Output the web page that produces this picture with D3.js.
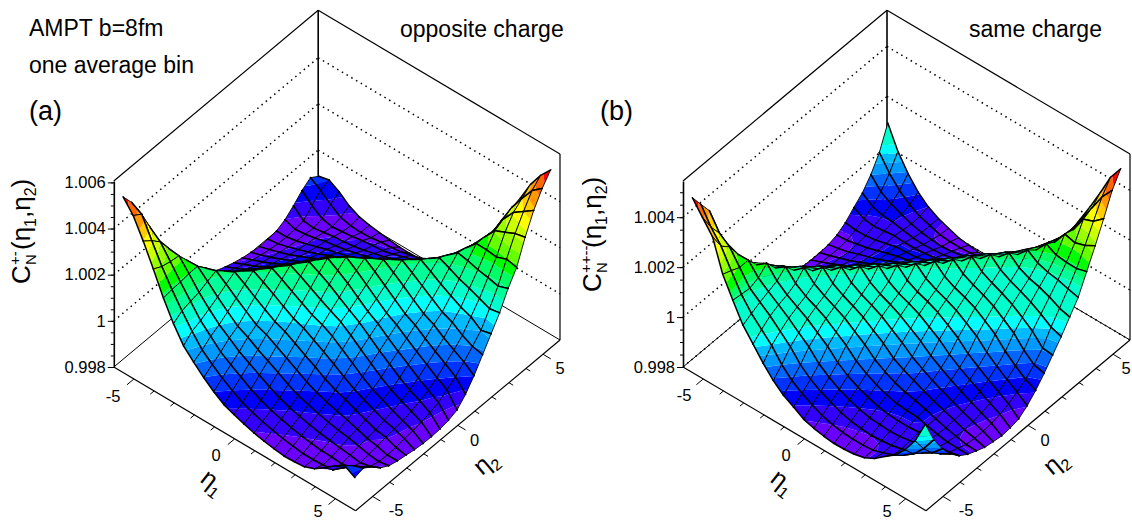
<!DOCTYPE html>
<html>
<head>
<meta charset="utf-8">
<title>C_N(eta1,eta2)</title>
<script src="https://cdn.jsdelivr.net/npm/d3@7"></script>
<style>
  html,body{margin:0;padding:0;background:#fff;overflow:hidden}
  text{font-family:"Liberation Sans",Arial,sans-serif;fill:#000}
  .ztick text{font-size:16.5px}
  .ztick path,.ztick line{stroke:#000}
</style>
</head>
<body>
<script>
// bin centres of eta1 and eta2
var etaCentres = [-5.75,-5.25,-4.75,-4.25,-3.75,-3.25,-2.75,-2.25,-1.75,-1.25,-0.75,-0.25,
                  0.25,0.75,1.25,1.75,2.25,2.75,3.25,3.75,4.25,4.75,5.25,5.75];
var etaTicks = d3.range(-5,6);
var etaLabels = [-5,0,5];

// band colours, lowest first
var bandColors = ["#6a00ff","#3300ff","#0000ff","#0033ff","#0066ff","#0099ff","#00bbff","#00ffff","#00ffcc","#00ff99",
                  "#00ff66","#00ff00","#66ff00","#99ff00","#ccff00","#ffff00","#ffcc00","#ff9900","#ff6600","#ff0000"];

// band limits in (C-1)*1e5
var oppositeLevels = [-149,-113,-76,-40,-4,33,69,105,141,178,214,250,286,323,359,395,431,468,504];
var sameLevels = [-150,-120,-90,-60,-30,0,25,52,145,165,185,215,245,275,305,335,370,400,440];

// (C-1)*1e5. C(eta1,eta2) is symmetric so only the rows with j<=i are kept
var oppositeRows = [
[535],
[480,455],
[395,366,330],
[300,280,270,265],
[200,206,208,213,215],
[115,139,150,158,175,190],
[45,77,92,112,133,158,180],
[0,22,50,70,95,123,153,180],
[-41,-15,8,38,58,91,123,157,188],
[-76,-48,-21,5,37,59,95,131,164,195],
[-106,-77,-48,-20,9,43,68,103,138,173,205],
[-123,-103,-75,-45,-14,18,51,77,113,148,183,215],
[-138,-119,-98,-70,-38,-7,26,61,88,123,158,188,215],
[-151,-133,-114,-92,-64,-32,0,36,71,100,128,158,183,205],
[-161,-144,-127,-108,-86,-58,-24,10,47,78,99,123,148,173,195],
[-168,-154,-138,-120,-100,-79,-51,-17,15,46,71,88,112,138,164,188],
[-174,-161,-147,-131,-113,-94,-72,-45,-17,10,36,61,77,103,131,159,185],
[-172,-167,-154,-140,-124,-107,-88,-72,-51,-24,0,26,51,68,97,128,159,188],
[-168,-168,-159,-147,-133,-118,-107,-94,-79,-58,-32,-7,18,45,64,97,131,169,205],
[-150,-165,-161,-152,-140,-133,-124,-113,-100,-86,-64,-38,-13,12,42,66,106,148,196,240],
[-120,-160,-165,-158,-150,-147,-141,-131,-120,-108,-92,-70,-43,-17,11,47,82,133,183,238,290],
[-85,-125,-155,-165,-160,-155,-147,-142,-138,-127,-113,-98,-74,-45,-16,17,66,115,175,233,310,365],
[-60,-90,-125,-155,-165,-168,-165,-158,-155,-148,-138,-125,-101,-75,-42,-5,34,97,164,250,330,395,455],
[-85,-75,-100,-135,-157,-167,-173,-180,-184,-185,-183,-176,-162,-125,-75,-15,45,105,180,240,340,425,490,540]
];

var sameRows = [
[476],
[421,353],
[367,301,270],
[241,227,211,212],
[161,156,152,165,195],
[85,103,120,134,148,177],
[33,63,89,105,116,134,168],
[-20,23,51,75,92,107,128,165],
[-65,-30,13,41,68,87,104,125,162],
[-100,-69,-35,8,37,65,84,101,123,160],
[-123,-97,-69,-36,6,35,63,82,99,121,158],
[-148,-119,-94,-66,-35,5,33,61,81,97,119,156],
[-160,-138,-113,-90,-64,-34,4,32,60,79,95,119,158],
[-168,-150,-130,-108,-86,-60,-32,4,31,58,79,97,122,162],
[-173,-157,-141,-122,-102,-81,-57,-32,3,31,60,82,101,126,166],
[-172,-160,-146,-132,-115,-97,-77,-54,-30,4,33,63,85,105,131,172],
[-168,-160,-150,-135,-122,-108,-91,-72,-54,-30,6,36,66,90,111,136,176],
[-158,-156,-147,-138,-125,-112,-100,-91,-77,-56,-30,8,39,71,94,115,139,178],
[-137,-143,-142,-135,-125,-114,-112,-108,-96,-80,-58,-31,11,43,74,97,117,143,185],
[-105,-127,-132,-128,-122,-125,-125,-121,-114,-101,-83,-60,-30,13,45,76,100,124,157,205],
[-75,-105,-117,-120,-128,-135,-138,-135,-131,-121,-106,-87,-62,-31,14,48,81,113,144,184,240],
[-30,-75,-100,-117,-132,-142,-147,-150,-146,-139,-129,-111,-91,-65,-31,17,57,97,137,179,229,295],
[30,-30,-75,-108,-130,-143,-156,-160,-160,-157,-149,-136,-117,-95,-65,-26,29,76,125,178,242,311,380],
[120,30,-35,-85,-120,-143,-158,-172,-178,-183,-180,-172,-148,-115,-75,-30,15,65,115,190,265,345,430,488]
];

// z ticks in the same units
var oppositeZTicks = [-200,0,200,400,600];
var oppositeZLabels = ["0.998","1","1.002","1.004","1.006"];
var sameZTicks = [-200,0,200,400];
var sameZLabels = ["0.998","1","1.002","1.004"];

var width = 1132, height = 521;
var svg = d3.select("body").append("svg").attr("width",width).attr("height",height)
            .style("display","block");

var frac = d3.scaleLinear().domain([-6,6]).range([0,1]);
var line = d3.line();
var nBins = etaCentres.length;

function drawPanel(p){
  var g = svg.append("g");
  var zH = d3.scaleLinear().domain(p.zDomain).range([0,p.zHeight]);
  var colorOf = d3.scaleThreshold().domain(p.levels).range(bandColors);
  var edges = [-Infinity].concat(colorOf.domain(),[Infinity]);

  function base(u,v){
    var a = frac(u), b = frac(v);
    return [p.left[0] + a*(p.front[0]-p.left[0]) + b*(p.right[0]-p.front[0]),
            p.left[1] + a*(p.front[1]-p.left[1]) + b*(p.right[1]-p.front[1])];
  }
  function screen(u,v,z){
    var q = base(u,v);
    return [q[0], q[1]-zH(z)];
  }
  function val(i,j){ return i>=j ? p.rows[i][j] : p.rows[j][i]; }

  // walls
  var back = [p.left[0]+p.right[0]-p.front[0], p.left[1]+p.right[1]-p.front[1]];
  var h = p.zHeight;
  function seg(a,b,w,dash){
    var l = g.append("path").attr("d",line([a,b])).attr("fill","none").attr("stroke","#000").attr("stroke-width",w);
    if(dash) l.attr("stroke-dasharray",dash);
    return l;
  }
  seg(p.left,back,1); seg(p.right,back,1);
  seg([p.left[0],p.left[1]-h],[back[0],back[1]-h],1.2);
  seg([back[0],back[1]-h],[p.right[0],p.right[1]-h],1.2);
  seg([back[0],back[1]-h],back,1.6);
  seg([p.right[0],p.right[1]-h],p.right,1.2);
  p.gridTicks.forEach(function(t){
    var y = zH(t);
    seg([p.left[0],p.left[1]-y],[back[0],back[1]-y],1.5,"1.5 4");
    seg([back[0],back[1]-y],[p.right[0],p.right[1]-y],1.5,"1.5 4");
  });

  // surface cells, far corner first
  var shapes = [];
  function clip(poly,lo,hi){
    function cut(pts,keep,level){
      var out = [];
      pts.forEach(function(c,k){
        var n = pts[(k+1)%pts.length];
        if(keep(c.z)) out.push(c);
        if(keep(c.z)!==keep(n.z)){
          var t = (level-c.z)/(n.z-c.z);
          out.push({u:c.u+t*(n.u-c.u), v:c.v+t*(n.v-c.v), z:level});
        }
      });
      return out;
    }
    var a = cut(poly,function(z){return z>=lo;},lo);
    return a.length ? cut(a,function(z){return z<=hi;},hi) : a;
  }
  for(var i=0;i<nBins-1;i++){
    for(var j=nBins-2;j>=0;j--){
      var poly = [[i,j],[i+1,j],[i+1,j+1],[i,j+1]].map(function(c){
        return {u:etaCentres[c[0]], v:etaCentres[c[1]], z:val(c[0],c[1])};
      });
      bandColors.forEach(function(col,b){
        var part = clip(poly,edges[b],edges[b+1]);
        if(part.length>2) shapes.push({d:line(part.map(function(q){return screen(q.u,q.v,q.z);}))+"Z",fill:col,stroke:"none",w:0});
      });
      var pix = poly.map(function(q){return screen(q.u,q.v,q.z);});
      // lines along eta2 are thin, lines along eta1 are heavier
      shapes.push({d:line([pix[1],pix[2]])+line([pix[3],pix[0]]),fill:"none",stroke:"#000",w:0.9});
      shapes.push({d:line([pix[0],pix[1]])+line([pix[2],pix[3]]),fill:"none",stroke:"#000",w:1.5});
    }
  }
  g.append("g").selectAll("path").data(shapes).join("path")
    .attr("d",function(d){return d.d;})
    .attr("fill",function(d){return d.fill;})
    .attr("stroke",function(d){return d.stroke;})
    .attr("stroke-width",function(d){return d.w;})
    .attr("stroke-linecap","round");

  // z axis on the left wall
  var zAxisScale = d3.scaleLinear().domain(p.zDomain).range([p.left[1],p.left[1]-p.zHeight]);
  var zMinor = g.append("g").attr("class","ztick").attr("transform","translate("+p.left[0]+",0)")
    .call(d3.axisLeft(zAxisScale).tickValues(d3.range(-200,p.zDomain[1],50)).tickSize(3).tickFormat(""));
  zMinor.select(".domain").remove();
  var zMajor = g.append("g").attr("class","ztick").attr("transform","translate("+p.left[0]+",0)")
    .call(d3.axisLeft(zAxisScale).tickValues(p.zTicks).tickSize(6).tickSizeOuter(0).tickPadding(2)
      .tickFormat(function(d,k){return p.zLabels[k];}));
  zMajor.select(".domain").attr("stroke-width",1.6);
  zMajor.attr("font-family",null).attr("font-size",null);

  // eta axes along the floor
  seg(p.left,p.front,1.2);
  seg(p.front,p.right,1.2);
  var duX = (p.front[0]-p.left[0]), duY = (p.front[1]-p.left[1]);
  var dvX = (p.right[0]-p.front[0]), dvY = (p.right[1]-p.front[1]);
  var duLen = Math.sqrt(duX*duX+duY*duY), dvLen = Math.sqrt(dvX*dvX+dvY*dvY);
  etaTicks.forEach(function(t){
    var major = etaLabels.indexOf(t)>=0, len = major ? 9 : 5;
    var a = base(t,-6);
    seg(a,[a[0]-dvX/dvLen*len,a[1]-dvY/dvLen*len],1);
    var c = base(6,t);
    seg(c,[c[0]+duX/duLen*len,c[1]+duY/duLen*len],1);
  });
  etaLabels.forEach(function(t,k){
    g.append("text").attr("x",p.eta1Label[k][0]).attr("y",p.eta1Label[k][1])
      .attr("text-anchor","middle").style("font-size","16.5px").text(t);
    g.append("text").attr("x",p.eta2Label[k][0]).attr("y",p.eta2Label[k][1])
      .attr("text-anchor","middle").style("font-size","16.5px").text(t);
  });

  // axis titles
  function etaTitle(pos,rot,sub){
    var t = g.append("text").attr("transform","translate("+pos[0]+","+pos[1]+") rotate("+rot+")").style("font-size","25px");
    t.append("tspan").text("η");
    t.append("tspan").attr("dy",6).style("font-size","16px").text(sub);
  }
  etaTitle(p.eta1Title,38,"1");
  etaTitle(p.eta2Title,-40,"2");

  var yt = g.append("g").attr("transform","translate("+p.yTitle[0]+","+p.yTitle[1]+") rotate(-90)");
  yt.append("text").style("font-size","26px").text("C");
  yt.append("text").attr("x",19).attr("y",6).style("font-size","15px").text("N");
  yt.append("text").attr("x",19).attr("y",-10).style("font-size","15px").text(p.charge);
  var main = yt.append("text").attr("x",p.yMainX).style("font-size","26px");
  main.append("tspan").text("(η");
  main.append("tspan").attr("dy",6).style("font-size","16px").text("1");
  main.append("tspan").attr("dy",-6).text(",η");
  main.append("tspan").attr("dy",6).style("font-size","16px").text("2");
  main.append("tspan").attr("dy",-6).text(")");
}

drawPanel({
  rows:oppositeRows, left:[113.8,367], front:[355.6,510.7], right:[560,340],
  zDomain:[-200,606], zHeight:186, zTicks:oppositeZTicks, zLabels:oppositeZLabels, gridTicks:[0,200,400],
  levels:oppositeLevels,
  eta1Label:[[113,402],[216,461],[318,516.5]], eta2Label:[[396,516],[474.5,446],[560,374]],
  eta1Title:[199,481], eta2Title:[482,476],
  yTitle:[30,284], yMainX:34, charge:"+-"
});
drawPanel({
  rows:sameRows, left:[683,367], front:[926,510.7], right:[1130,340],
  zDomain:[-200,545], zHeight:186, zTicks:sameZTicks, zLabels:sameZLabels, gridTicks:[-200,0,200,400],
  levels:sameLevels,
  eta1Label:[[684,401],[786,461],[887,516.5]], eta2Label:[[966,516],[1045,446],[1126,374]],
  eta1Title:[769,481], eta2Title:[1052,476],
  yTitle:[601,292], yMainX:44, charge:"++--"
});

// captions
function caption(txt,x,y,size){
  svg.append("text").attr("x",x).attr("y",y).style("font-size",size+"px").text(txt);
}
caption("AMPT b=8fm",29,36,23);
caption("one average bin",29,73,23);
caption("(a)",29,120,27);
caption("opposite charge",400,37,23);
caption("same charge",969,37,23);
caption("(b)",600,120,27);
</script>
</body>
</html>
